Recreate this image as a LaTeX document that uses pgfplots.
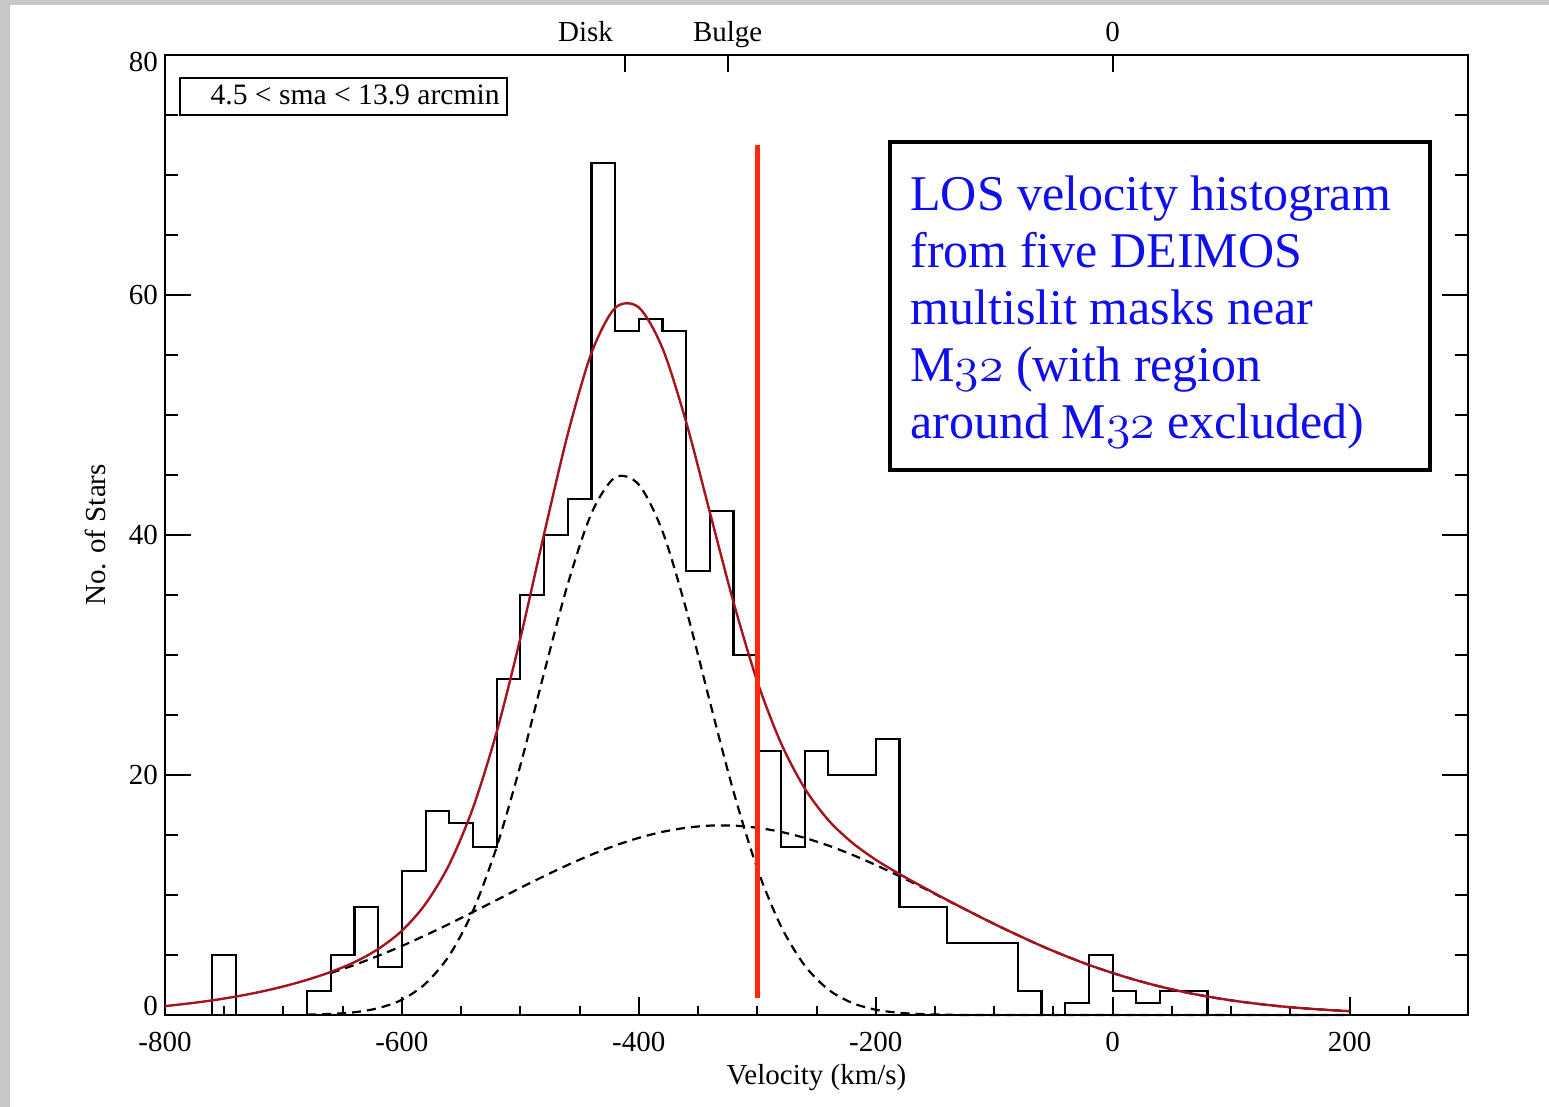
\documentclass[border=0pt]{standalone}
\usepackage{fontspec}
\setmainfont{Liberation Serif}
\usepackage{pgfplots}
\pgfplotsset{compat=1.18}
\definecolor{fitred}{RGB}{165,20,30}
\definecolor{vline}{RGB}{255,40,10}
\definecolor{txtblue}{RGB}{15,15,235}
\definecolor{framegray}{RGB}{200,200,200}
\newcommand\osf[1]{{\usefont{OML}{cmm}{m}{it}#1}}
\begin{document}
\begin{tikzpicture}[x=1pt,y=1pt]
\path[use as bounding box] (0,0) rectangle (774.5,553.5);
\fill[framegray] (0,0) rectangle (5,553.5);
\fill[framegray] (0,551) rectangle (774.5,553.5);
\begin{axis}[
  at={(82.5pt,46pt)}, anchor=south west,
  scale only axis, width=651.5pt, height=480pt,
  xmin=-800, xmax=300, ymin=0, ymax=80,
  xtick={-800,-600,...,400}, xticklabels={-800,-600,-400,-200,0,200,400},
  minor x tick num=3,
  ytick={0,20,40,60,80}, yticklabels={\raisebox{-0.4pt}[0pt][0pt]{0},20,40,60,\raisebox{-8.4pt}[0pt][0pt]{80}},
  minor y tick num=3,
  xtick pos=left, ytick pos=both, yticklabel pos=left,
  tick align=inside,
  xtick style={/pgfplots/major tick length=9pt, /pgfplots/minor tick length=4.5pt, line width=1pt, black},
  ytick style={/pgfplots/major tick length=13pt, /pgfplots/minor tick length=6.5pt, line width=1pt, black},
  axis line style={line width=1.2pt},
  tick label style={font=\fontsize{14.5}{16}\selectfont},
  xticklabel style={anchor=base, yshift=-18.5pt},
  label style={font=\fontsize{14.5}{16}\selectfont},
  xlabel={Velocity (km/s)}, ylabel={No. of Stars},
  xlabel style={at={(axis description cs:0.5,-0.0719)}, anchor=base},
  ylabel style={at={(axis description cs:-0.0537,0.5)}, anchor=center},
  clip=false,
]
% histogram (20 km/s bins)
\addplot[const plot, line width=1.1pt, black] coordinates {
(-760,0) (-760,5) (-740,0) (-720,0) (-700,0) (-680,2) (-660,5) (-640,9) (-620,4)
(-600,12) (-580,17) (-560,16) (-540,14) (-520,28) (-500,35) (-480,40) (-460,43)
(-440,71) (-420,57) (-400,58) (-380,57) (-360,37) (-340,42) (-320,30) (-300,22)
(-280,14) (-260,22) (-240,20) (-220,20) (-200,23) (-180,9) (-160,9) (-140,6)
(-120,6) (-100,6) (-80,2) (-60,0) (-40,1) (-20,5) (0,2) (20,1) (40,2) (60,2) (80,0)};
% disk component
\addplot[smooth, line width=1.1pt, black, dash pattern=on 4.5pt off 3pt] coordinates {
(-680,0.03) (-660,0.09) (-640,0.23) (-620,0.57) (-600,1.27) (-580,2.62) (-560,4.96)
(-540,8.68) (-520,14.0) (-500,20.8) (-480,28.5) (-460,35.9) (-440,41.8) (-420,44.8)
(-400,44.2) (-380,40.3) (-360,33.8) (-340,26.1) (-320,18.6) (-300,12.2) (-280,7.40)
(-260,4.13) (-240,2.12) (-220,1.01) (-200,0.44) (-180,0.18) (-160,0.07) (-140,0.02)
(-120,0) (-60,0) (0,0) (100,0) (200,0)};
% bulge component
\addplot[smooth, line width=1.1pt, black, dash pattern=on 4.5pt off 3pt] coordinates {
(-660,3.50) (-640,4.17) (-620,4.93) (-600,5.75) (-580,6.65) (-560,7.59) (-540,8.58)
(-520,9.58) (-500,10.59) (-480,11.57) (-460,12.50) (-440,13.36) (-420,14.12)
(-400,14.76) (-380,15.26) (-360,15.60) (-340,15.78) (-320,15.78) (-300,15.60)
(-280,15.26) (-260,14.76) (-240,14.12) (-220,13.36) (-200,12.50) (-180,11.57)
(-160,10.59) (-140,9.58) (-120,8.58) (-100,7.59) (-80,6.65) (-60,5.75) (-40,4.93)
(-20,4.17) (0,3.50) (20,2.90) (40,2.37) (60,1.92) (80,1.54) (100,1.22) (120,0.96)
(140,0.74) (160,0.57) (180,0.43) (200,0.32)};
% total fit
\addplot[smooth, line width=1.2pt, fitred] coordinates {
(-800,0.74) (-780,0.96) (-760,1.22) (-740,1.54) (-720,1.92) (-700,2.38) (-680,2.93)
(-660,3.59) (-640,4.40) (-620,5.50) (-600,7.02) (-580,9.27) (-560,12.55) (-540,17.26)
(-520,23.58) (-500,31.39) (-480,40.07) (-460,48.4) (-440,55.16) (-420,58.92)
(-400,58.96) (-380,55.56) (-360,49.4) (-340,41.88) (-320,34.38) (-300,27.8)
(-280,22.66) (-260,18.89) (-240,16.24) (-220,14.37) (-200,12.94) (-180,11.75)
(-160,10.66) (-140,9.60) (-120,8.58) (-100,7.59) (-80,6.65) (-60,5.75) (-40,4.93)
(-20,4.17) (0,3.50) (20,2.90) (40,2.37) (60,1.92) (80,1.54) (100,1.22) (120,0.96)
(140,0.74) (160,0.57) (180,0.43) (200,0.32)};
% vertical marker
\addplot[line width=2.5pt, vline] coordinates {(-300,1.4) (-300,72.5)};
% top axis ticks and labels
\draw[line width=1pt] (axis cs:-412,80) -- ([yshift=-8.5pt]axis cs:-412,80);
\draw[line width=1pt] (axis cs:-325,80) -- ([yshift=-8.5pt]axis cs:-325,80);
\draw[line width=1pt] (axis cs:0,80) -- ([yshift=-8.5pt]axis cs:0,80);
\node[anchor=base, font=\fontsize{14.5}{16}\selectfont] at ([yshift=6.5pt]axis cs:-445,80) {Disk};
\node[anchor=base, font=\fontsize{14.5}{16}\selectfont] at ([yshift=6.5pt]axis cs:-325,80) {Bulge};
\node[anchor=base, font=\fontsize{14.5}{16}\selectfont] at ([yshift=6.5pt]axis cs:0,80) {0};
\end{axis}
% inset label box
\draw[line width=1pt] (90,496) rectangle (253.5,514.5);
\node[anchor=base east, inner sep=0pt, font=\fontsize{14.8}{16}\selectfont] at (250,501) {4.5 {<} sma {<} 13.9 arcmin};
% blue annotation box
\draw[line width=1.75pt] (445,318.5) rectangle (715,482.5);
\node[anchor=base west, inner sep=0pt, text=txtblue, font=\fontsize{25}{28.5}\selectfont] at (455,448) {\parbox[t]{255pt}{\raggedright
LOS velocity histogram\\from five DEIMOS\\multislit masks near\\M\osf{32} (with region\\around M\osf{32} excluded)}};
\end{tikzpicture}
\end{document}
